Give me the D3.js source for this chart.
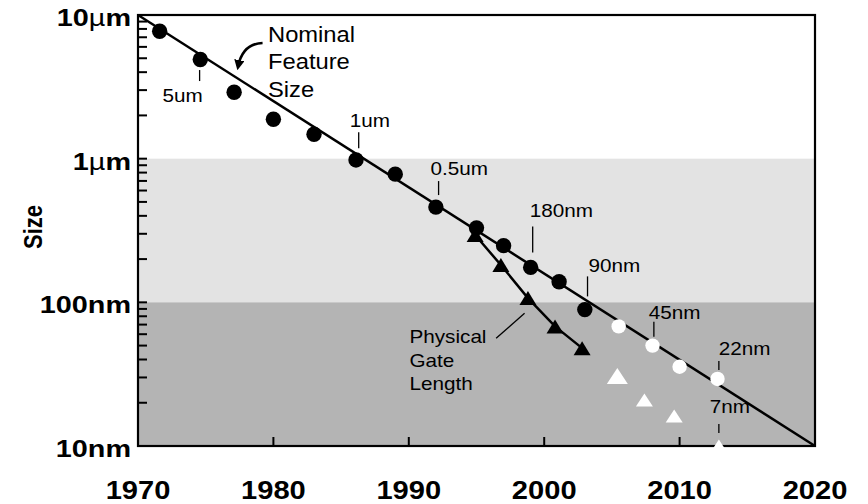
<!DOCTYPE html>
<html>
<head>
<meta charset="utf-8">
<script src="https://cdn.jsdelivr.net/npm/d3@7"></script>
<style>
    body { margin: 0; background: #fff; }
    text { font-family: "Liberation Sans", Arial, Helvetica, sans-serif; fill: #000; }
</style>
</head>
<body>
<div id="chart"></div>
<script>
// values, sizes in nm
const featureYears = [1971.6, 1974.6, 1977.1, 1980.0, 1983.0, 1986.1, 1989.0, 1992.0, 1995.0, 1997.0, 1999.0, 2001.1, 2003.0];
const featureSizes = [7700, 4900, 2900, 1880, 1480, 980, 780, 460, 330, 248, 175, 139, 89];
const projectedYears = [2005.5, 2008.0, 2010.0, 2012.8];
const projectedSizes = [68, 50, 35.6, 29.3];
const gateYears = [1994.9, 1996.8, 1998.8, 2000.8, 2002.8];
const gateSizes = [294, 182, 107, 68, 48];
const projGateYears = [2005.4, 2007.4, 2009.6, 2012.9];
const projGateSizes = [30.7, 20.9, 16.2, 10];
const trendYears = [1970, 2020];
const trendSizes = [10000, 10];

const yTickValues = [10, 100, 1000, 10000];
const yTickLabels = ["10nm", "100nm", "1\u00b5m", "10\u00b5m"];
const xTickValues = [1970, 1980, 1990, 2000, 2010, 2020];
const bandLimits = [[1000, 100], [100, 10]];
const bandColors = ["#e3e3e3", "#b4b4b4"];

// node labels: leader at (year, nm) going up `len` px, text offset from leader bottom
const nodeLabels = [
    { text: "5um",   year: 1974.55, nm: 3470, len: 11, dx: -37, dy: 21 },
    { text: "1um",   year: 1986.3,  nm: 1180, len: 16, dx: -9,  dy: -21 },
    { text: "0.5um", year: 1992.2,  nm: 558,  len: 14, dx: -8,  dy: -20 },
    { text: "180nm", year: 1999.15, nm: 222,  len: 26, dx: -3,  dy: -36 },
    { text: "90nm",  year: 2003.2,  nm: 110,  len: 20, dx: 1,   dy: -24 },
    { text: "45nm",  year: 2008.1,  nm: 57.6, len: 15, dx: -5,  dy: -18 },
    { text: "22nm",  year: 2012.9,  nm: 33.8, len: 9,  dx: 0,   dy: -15 },
    { text: "7nm",   year: 2012.9,  nm: 12.3, len: 9,  dx: -9,  dy: -20 }
];
const nominalText = ["Nominal", "Feature", "Size"];
const gateText = ["Physical", "Gate", "Length"];

const W = 868, H = 504;
const plot = { left: 138, right: 815, top: 15, bottom: 446 };

const x = d3.scaleLinear().domain([1970, 2020]).range([plot.left, plot.right]);
const y = d3.scaleLog().domain([10, 10000]).range([plot.bottom, plot.top]);

const svg = d3.select("#chart").append("svg")
    .attr("width", W)
    .attr("height", H);

// shaded bands
svg.selectAll(".band")
    .data(bandLimits)
    .join("rect")
    .attr("class", "band")
    .attr("x", plot.left)
    .attr("width", plot.right - plot.left)
    .attr("y", d => y(d[0]))
    .attr("height", d => y(d[1]) - y(d[0]))
    .attr("fill", (d, i) => bandColors[i]);

const line = d3.line().x(d => x(d[0])).y(d => y(d[1]));

svg.append("path")
    .datum(d3.zip(trendYears, trendSizes))
    .attr("d", line)
    .attr("fill", "none")
    .attr("stroke", "#000")
    .attr("stroke-width", 2.5);

svg.append("path")
    .datum(d3.zip(gateYears, gateSizes))
    .attr("d", line)
    .attr("fill", "none")
    .attr("stroke", "#000")
    .attr("stroke-width", 2.5);

const tri = (w, h) => `M0,${-h / 2}L${w / 2},${h / 2}L${-w / 2},${h / 2}Z`;

svg.selectAll(".gate")
    .data(d3.zip(gateYears, gateSizes))
    .join("path")
    .attr("class", "gate")
    .attr("d", tri(17, 14))
    .attr("transform", d => `translate(${x(d[0])},${y(d[1])})`)
    .attr("fill", "#000");

svg.selectAll(".feature")
    .data(d3.zip(featureYears, featureSizes))
    .join("circle")
    .attr("class", "feature")
    .attr("cx", d => x(d[0]))
    .attr("cy", d => y(d[1]))
    .attr("r", 7.7)
    .attr("fill", "#000");

svg.selectAll(".projected")
    .data(d3.zip(projectedYears, projectedSizes))
    .join("circle")
    .attr("class", "projected")
    .attr("cx", d => x(d[0]))
    .attr("cy", d => y(d[1]))
    .attr("r", 7.2)
    .attr("fill", "#fff");

// axes frame
svg.append("rect")
    .attr("x", plot.left)
    .attr("y", plot.top)
    .attr("width", plot.right - plot.left)
    .attr("height", plot.bottom - plot.top)
    .attr("fill", "none")
    .attr("stroke", "#000")
    .attr("stroke-width", 2.2);

const yTicks = [];
[10, 100, 1000].forEach(dec => d3.range(1, 10).forEach(k => yTicks.push(dec * k)));
svg.selectAll(".ytick")
    .data(yTicks)
    .join("line")
    .attr("class", "ytick")
    .attr("x1", plot.left)
    .attr("x2", plot.left + 9)
    .attr("y1", d => y(d))
    .attr("y2", d => y(d))
    .attr("stroke", "#000")
    .attr("stroke-width", 2);

svg.selectAll(".xtick")
    .data(xTickValues.slice(1, -1))
    .join("line")
    .attr("class", "xtick")
    .attr("x1", d => x(d))
    .attr("x2", d => x(d))
    .attr("y1", plot.bottom)
    .attr("y2", plot.bottom - 9)
    .attr("stroke", "#000")
    .attr("stroke-width", 2);

// projected gate triangles go over the axis line
svg.selectAll(".projGate")
    .data(d3.zip(projGateYears, projGateSizes))
    .join("path")
    .attr("class", "projGate")
    .attr("d", (d, i) => i === 0 ? tri(21, 16) : tri(17, 13))
    .attr("transform", d => `translate(${x(d[0])},${y(d[1])})`)
    .attr("fill", "#fff");

// tick labels
const yLab = svg.selectAll(".ylab")
    .data(yTickValues)
    .join("text")
    .attr("class", "ylab")
    .attr("transform", d => `translate(131,${y(d) + 11}) scale(1.2,1)`)
    .attr("text-anchor", "end")
    .attr("font-size", 24)
    .attr("font-weight", "bold");
yLab.each(function(d, i) {
    const parts = yTickLabels[i].split("\u00b5");
    const t = d3.select(this);
    t.append("tspan").text(parts[0]);
    if (parts.length > 1) {
        t.append("tspan").attr("font-weight", "normal").text("\u00b5");
        t.append("tspan").text(parts[1]);
    }
});

svg.selectAll(".xlab")
    .data(xTickValues)
    .join("text")
    .attr("class", "xlab")
    .attr("transform", d => `translate(${x(d)},499) scale(1.12,1)`)
    .attr("text-anchor", "middle")
    .attr("font-size", 26)
    .attr("font-weight", "bold")
    .text(d => d);

svg.append("text")
    .attr("transform", "translate(42,227) scale(1.15,1) rotate(-90)")
    .attr("text-anchor", "middle")
    .attr("font-size", 22)
    .attr("font-weight", "bold")
    .text("Size");

// node labels with leader lines
const nl = svg.selectAll(".nodeLabel")
    .data(nodeLabels)
    .join("g")
    .attr("class", "nodeLabel")
    .attr("transform", d => `translate(${x(d.year)},${y(d.nm)})`);
nl.append("line")
    .attr("y1", 0)
    .attr("y2", d => -d.len)
    .attr("stroke", "#000")
    .attr("stroke-width", 1.3);
nl.append("text")
    .attr("transform", d => `translate(${d.dx},${d.dy}) scale(1.15,1)`)
    .attr("font-size", 18)
    .text(d => d.text);

// Nominal Feature Size
svg.append("text")
    .attr("transform", `translate(${x(1979.6)},${y(6490)}) scale(1.08,1)`)
    .attr("font-size", 22)
    .selectAll("tspan")
    .data(nominalText)
    .join("tspan")
    .attr("x", 0)
    .attr("dy", (d, i) => i ? 27.5 : 0)
    .text(d => d);

svg.append("defs").append("marker")
    .attr("id", "arrow")
    .attr("viewBox", "0 -5 10 10")
    .attr("refX", 6)
    .attr("refY", 0)
    .attr("markerWidth", 4)
    .attr("markerHeight", 4)
    .attr("orient", "auto")
    .append("path")
    .attr("d", "M0,-5L10,0L0,5Z")
    .attr("fill", "#000");

const a0 = [x(1979.2), y(6390)], a1 = [x(1977.4), y(4400)];
svg.append("path")
    .attr("d", `M${a0[0]},${a0[1]}Q${a0[0] - 20},${a0[1] + 1} ${a1[0]},${a1[1]}`)
    .attr("fill", "none")
    .attr("stroke", "#000")
    .attr("stroke-width", 2.6)
    .attr("marker-end", "url(#arrow)");

// Physical Gate Length
svg.append("text")
    .attr("transform", `translate(${x(1990.05)},${y(52)}) scale(1.15,1)`)
    .attr("font-size", 18)
    .selectAll("tspan")
    .data(gateText)
    .join("tspan")
    .attr("x", 0)
    .attr("dy", (d, i) => i ? 23.5 : 0)
    .text(d => d);

svg.append("line")
    .attr("x1", x(1996.45)).attr("y1", y(56.2))
    .attr("x2", x(1998.55)).attr("y2", y(84))
    .attr("stroke", "#000")
    .attr("stroke-width", 1.3);
</script>
</body>
</html>
